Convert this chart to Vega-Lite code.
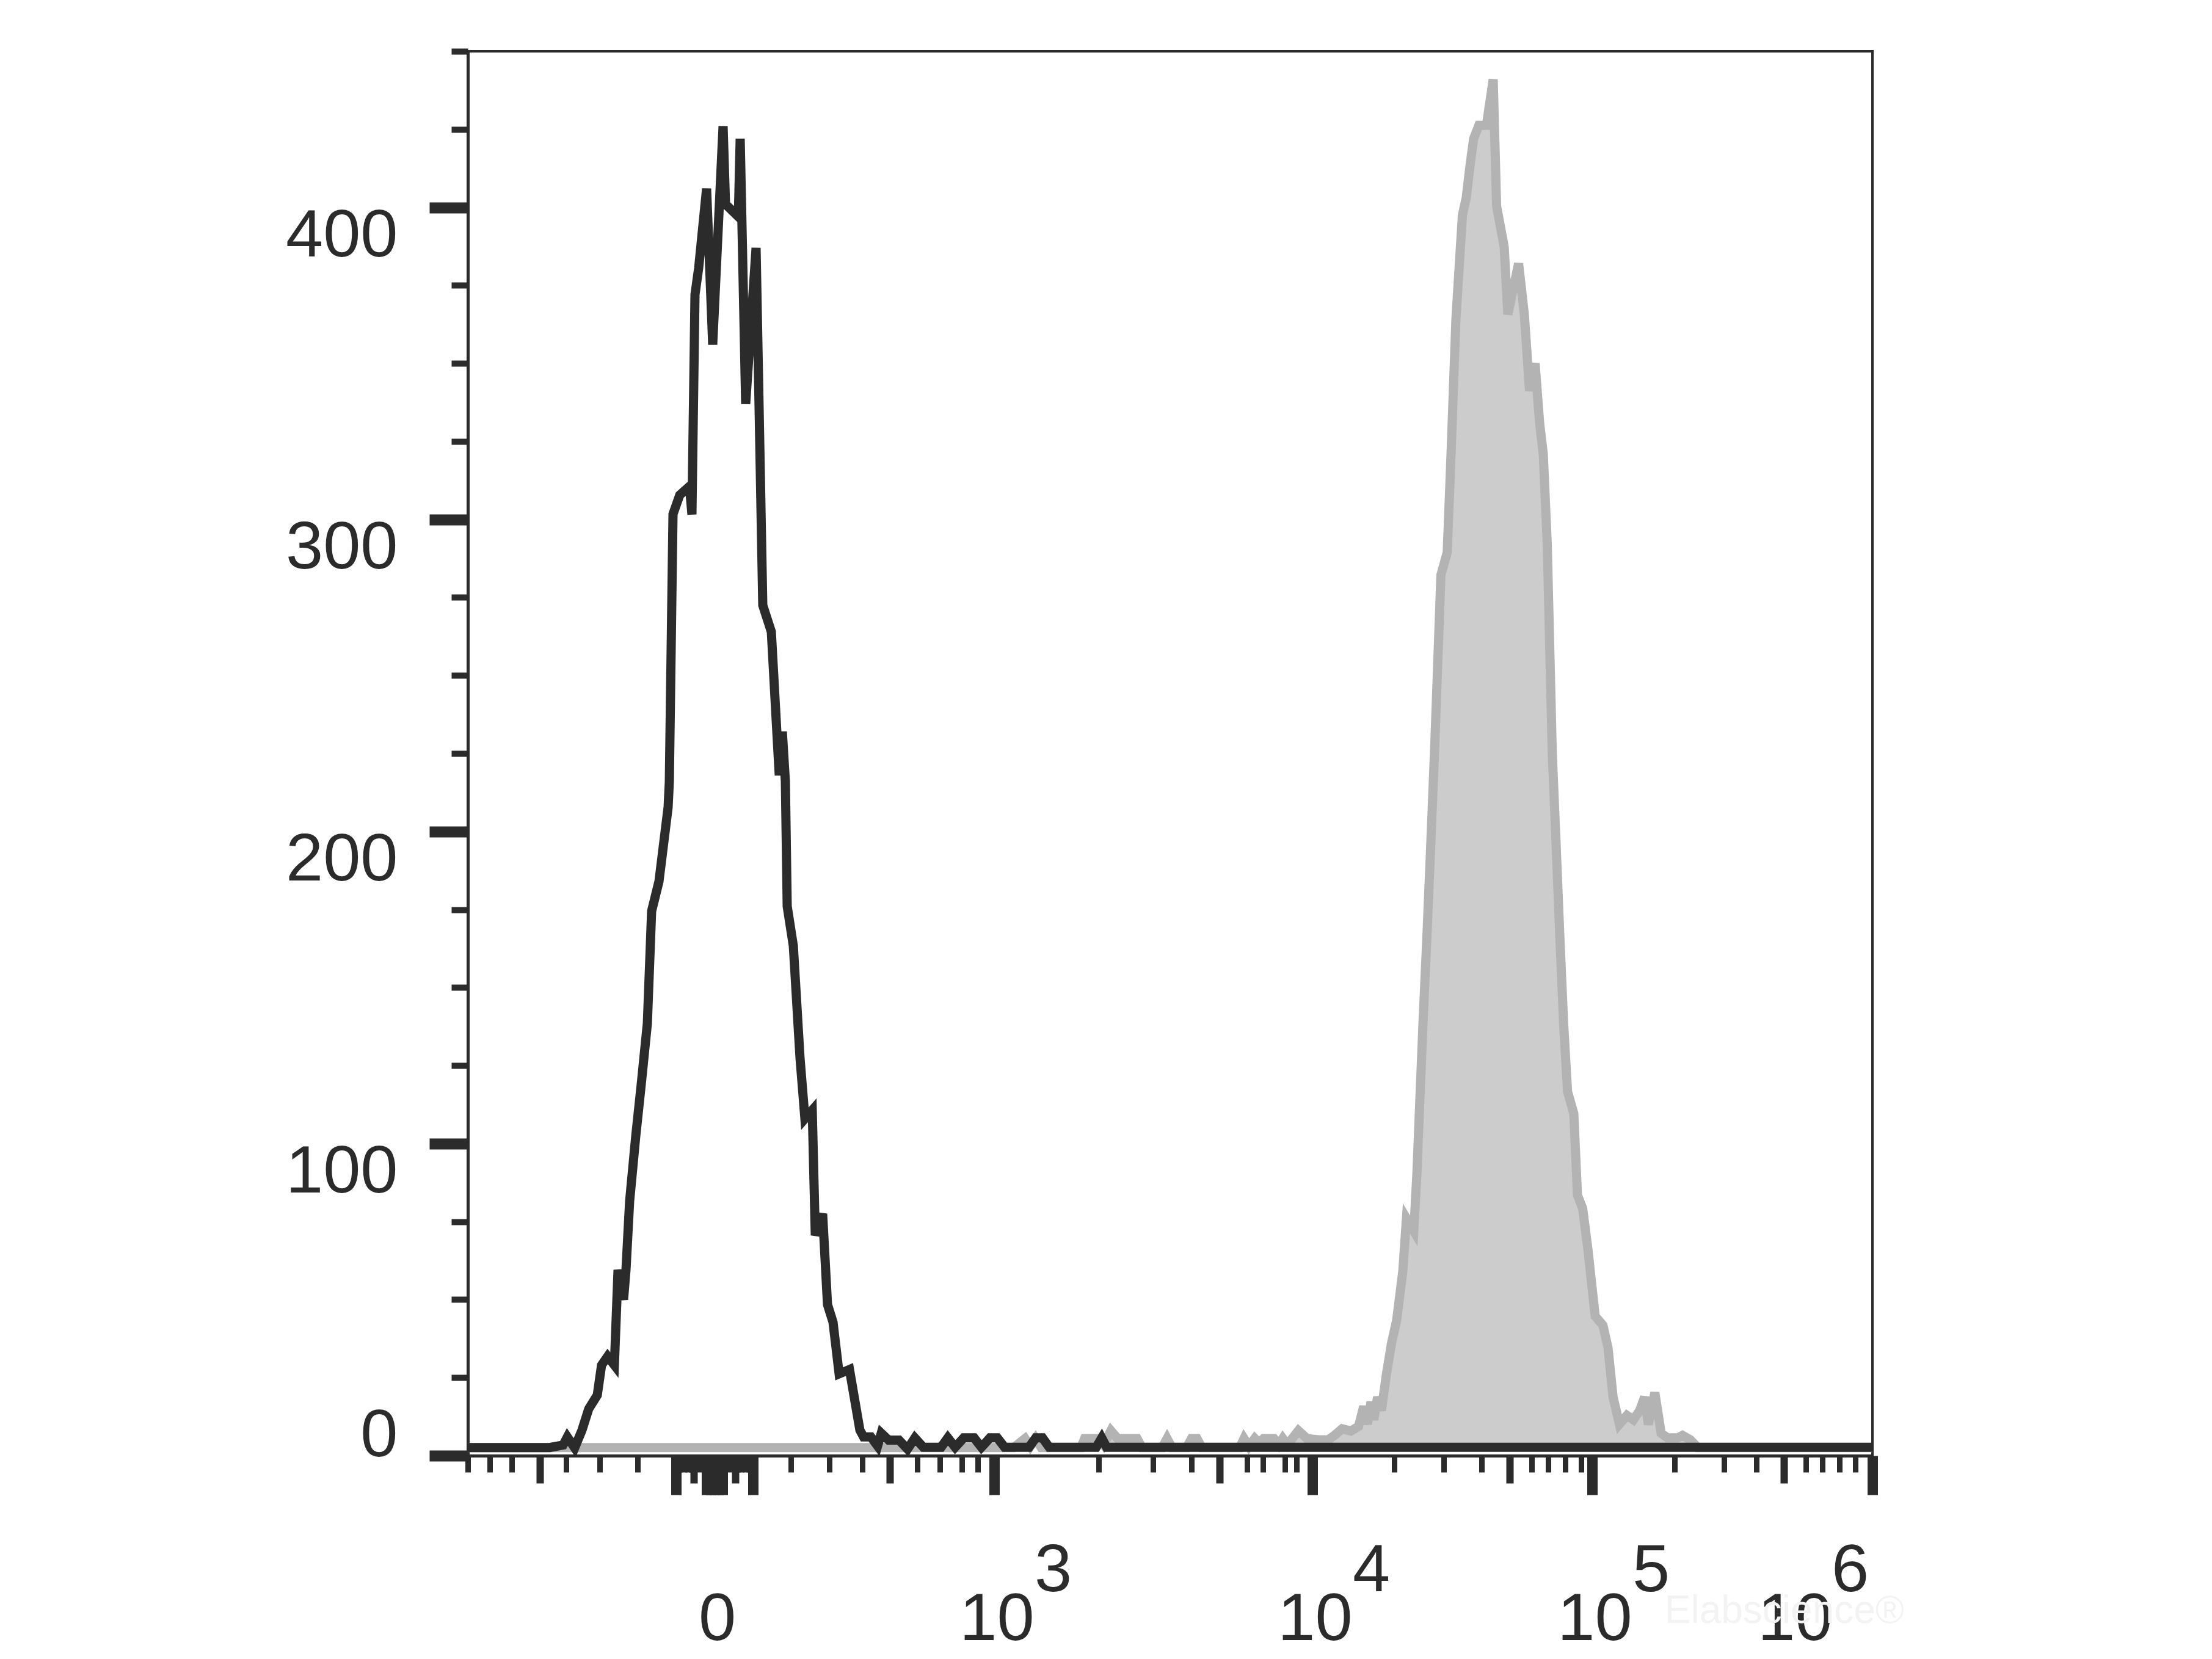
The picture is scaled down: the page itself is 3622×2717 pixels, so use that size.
{
  "$schema": "https://vega.github.io/schema/vega-lite/v6.json",
  "width": 2300,
  "height": 2300,
  "autosize": {"type": "none"},
  "padding": {"left": 766, "top": 84, "right": 556, "bottom": 333},
  "background": "white",
  "title": {"text": "Elabscience®", "orient": "bottom", "anchor": "end", "fontSize": 64, "font": "Liberation Sans", "fontWeight": "normal", "color": "#f3f3f3", "offset": -100, "dx": 22},
  "config": {
    "view": {"stroke": "#2b2b2b", "strokeWidth": 4},
    "axis": {"grid": false, "labelFont": "Liberation Sans", "labelColor": "#2b2b2b", "tickColor": "#2b2b2b", "domainColor": "#2b2b2b", "labelFlush": false, "labelOverlap": false, "labelBound": false, "labelLimit": 0, "title": null}
  },
  "datasets": {
    "gray": [
      {"x": 0, "count": 2.6}, {"x": 894, "count": 2.6}, {"x": 912.5, "count": 5.5}, {"x": 921, "count": 3}, {"x": 929.7, "count": 5.5}, {"x": 939, "count": 2.6},
      {"x": 1004, "count": 2.6}, {"x": 1010, "count": 5.5}, {"x": 1033, "count": 5.5}, {"x": 1041, "count": 3.5}, {"x": 1053, "count": 8}, {"x": 1064, "count": 5.5},
      {"x": 1096, "count": 5.5}, {"x": 1104, "count": 2.6}, {"x": 1137, "count": 2.6}, {"x": 1145, "count": 5.5}, {"x": 1153, "count": 2.6}, {"x": 1177, "count": 2.6},
      {"x": 1185, "count": 5.5}, {"x": 1194, "count": 5.5}, {"x": 1202, "count": 2.6}, {"x": 1264, "count": 2.6}, {"x": 1271, "count": 5.5}, {"x": 1279, "count": 3},
      {"x": 1288.5, "count": 5.5}, {"x": 1296, "count": 4}, {"x": 1303, "count": 5.5}, {"x": 1320, "count": 5.5}, {"x": 1328, "count": 3.5}, {"x": 1334.5, "count": 5.5},
      {"x": 1342, "count": 3.5}, {"x": 1360, "count": 8}, {"x": 1374, "count": 5.5}, {"x": 1392, "count": 5.1}, {"x": 1409, "count": 5.1}, {"x": 1419, "count": 6.5},
      {"x": 1431.7, "count": 8.6}, {"x": 1446, "count": 7.9}, {"x": 1458.6, "count": 9.4}, {"x": 1467, "count": 15.8}, {"x": 1473, "count": 10.1}, {"x": 1479, "count": 17.2},
      {"x": 1483.5, "count": 11.5}, {"x": 1489.7, "count": 18.8}, {"x": 1496, "count": 14.5}, {"x": 1504, "count": 25.9}, {"x": 1512.5, "count": 36}, {"x": 1520.8, "count": 43.2},
      {"x": 1531, "count": 59.1}, {"x": 1537, "count": 76}, {"x": 1549, "count": 72}, {"x": 1554, "count": 90}, {"x": 1558, "count": 109.6}, {"x": 1564, "count": 138.3},
      {"x": 1570.6, "count": 167}, {"x": 1576.8, "count": 196}, {"x": 1583, "count": 225.9}, {"x": 1593.4, "count": 282.2}, {"x": 1603.7, "count": 289.4}, {"x": 1610, "count": 321},
      {"x": 1618, "count": 364.3}, {"x": 1628.6, "count": 397.5}, {"x": 1634.8, "count": 403}, {"x": 1641, "count": 413.3}, {"x": 1647, "count": 422}, {"x": 1655.6, "count": 426.3},
      {"x": 1668, "count": 426.3}, {"x": 1679, "count": 441}, {"x": 1684.6, "count": 400.4}, {"x": 1697, "count": 387.3}, {"x": 1703, "count": 365.7}, {"x": 1720.6, "count": 382},
      {"x": 1730, "count": 365.7}, {"x": 1738.5, "count": 341.2}, {"x": 1747.6, "count": 350}, {"x": 1755, "count": 331}, {"x": 1761, "count": 321}, {"x": 1767.5, "count": 292.3},
      {"x": 1775.8, "count": 224.8}, {"x": 1782, "count": 196}, {"x": 1788, "count": 167}, {"x": 1794.4, "count": 138.3}, {"x": 1800.7, "count": 116.7}, {"x": 1811, "count": 109.6},
      {"x": 1817, "count": 83.5}, {"x": 1825.5, "count": 79.2}, {"x": 1834, "count": 66.3}, {"x": 1846, "count": 44.7}, {"x": 1858.7, "count": 41.8}, {"x": 1867, "count": 34.6},
      {"x": 1875.3, "count": 18.8}, {"x": 1885.7, "count": 10.1}, {"x": 1898, "count": 12.9}, {"x": 1908.5, "count": 11.5}, {"x": 1919, "count": 14.5}, {"x": 1927, "count": 18.8},
      {"x": 1933, "count": 10}, {"x": 1943.7, "count": 20.2}, {"x": 1954, "count": 7.2}, {"x": 1964.4, "count": 5.7}, {"x": 1981, "count": 5.7}, {"x": 1989, "count": 6.5},
      {"x": 2001.7, "count": 5.1}, {"x": 2014, "count": 2.6}, {"x": 2300, "count": 2.6}
    ],
    "black": [
      {"x": 0, "count": 2.6}, {"x": 134, "count": 2.6}, {"x": 156, "count": 3.4}, {"x": 163, "count": 6}, {"x": 175, "count": 2.5}, {"x": 187, "count": 8.2},
      {"x": 198, "count": 15}, {"x": 212, "count": 19.4}, {"x": 219, "count": 29}, {"x": 229, "count": 31.8}, {"x": 240, "count": 29}, {"x": 246, "count": 59.5},
      {"x": 255, "count": 50}, {"x": 259, "count": 59.5}, {"x": 265, "count": 81.6}, {"x": 275, "count": 102.4}, {"x": 284, "count": 119}, {"x": 294, "count": 138.5},
      {"x": 301, "count": 174.5}, {"x": 313, "count": 184}, {"x": 328, "count": 207.8}, {"x": 330, "count": 216}, {"x": 336, "count": 301.7}, {"x": 347, "count": 307.8},
      {"x": 363, "count": 310.6}, {"x": 367, "count": 301.6}, {"x": 372, "count": 372}, {"x": 378, "count": 380.5}, {"x": 391, "count": 406}, {"x": 401, "count": 356},
      {"x": 418, "count": 426}, {"x": 422, "count": 401}, {"x": 443, "count": 397}, {"x": 446, "count": 422}, {"x": 455, "count": 337}, {"x": 472, "count": 387},
      {"x": 476, "count": 346}, {"x": 483, "count": 272.5}, {"x": 497, "count": 264}, {"x": 506, "count": 232}, {"x": 510, "count": 218}, {"x": 515, "count": 232},
      {"x": 520, "count": 216}, {"x": 523, "count": 176}, {"x": 533, "count": 163.4}, {"x": 544, "count": 127.4}, {"x": 552, "count": 108}, {"x": 564, "count": 110.7},
      {"x": 569, "count": 70.6}, {"x": 581, "count": 77.5}, {"x": 589, "count": 48.4}, {"x": 598, "count": 42.8}, {"x": 608, "count": 26.2}, {"x": 625, "count": 27.6},
      {"x": 642, "count": 8.2}, {"x": 648, "count": 6}, {"x": 660, "count": 6}, {"x": 671, "count": 3.1}, {"x": 677, "count": 7.2}, {"x": 689, "count": 5},
      {"x": 706, "count": 5}, {"x": 720, "count": 2.1}, {"x": 732, "count": 5.7}, {"x": 746, "count": 2.7}, {"x": 775, "count": 2.7}, {"x": 786, "count": 5.7},
      {"x": 798, "count": 2.7}, {"x": 812, "count": 5.7}, {"x": 829, "count": 5.7}, {"x": 841, "count": 2.7}, {"x": 855, "count": 5.7}, {"x": 867, "count": 5.7},
      {"x": 879, "count": 2.7}, {"x": 919, "count": 2.7}, {"x": 930, "count": 5.7}, {"x": 941, "count": 5.7}, {"x": 952, "count": 2.7}, {"x": 1029, "count": 2.7},
      {"x": 1038, "count": 5.7}, {"x": 1046, "count": 2.7}, {"x": 2300, "count": 2.7}
    ]
  },
  "resolve": {"axis": {"x": "independent", "y": "independent"}},
  "layer": [
    {
      "data": {"name": "gray"},
      "mark": {"type": "area", "color": "#cccccc", "opacity": 1},
      "encoding": {
        "x": {"field": "x", "type": "quantitative", "scale": {"domain": [0, 2300], "nice": false, "zero": false},
          "axis": {
            "orient": "bottom",
            "values": [0, 36, 72, 118, 161, 216, 278, 341, 347, 354, 360, 366, 370, 379, 391, 398, 404, 410, 417, 429, 438, 442, 448, 454, 461, 467, 529, 592, 646, 691, 736, 773, 809, 835, 862, 1033, 1122, 1185, 1231, 1276, 1302, 1338, 1357, 1383, 1517, 1598, 1660, 1706, 1742, 1769, 1797, 1823, 1841, 1976, 2057, 2110, 2155, 2191, 2218, 2246, 2272, 2300],
            "labels": false,
            "domain": true,
            "domainWidth": 5,
            "ticks": true,
            "tickSize": {"condition": [{"test": "indexof([341, 391, 398, 404, 410, 417, 467, 862, 1383, 1841, 2300], datum.value) >= 0", "value": 64}, {"test": "indexof([118, 370, 438, 691, 1231, 1706, 2155], datum.value) >= 0", "value": 45}], "value": 27},
            "tickWidth": {"condition": [{"test": "indexof([341, 391, 398, 404, 410, 417, 467, 862, 1383, 1841, 2300], datum.value) >= 0", "value": 17}, {"test": "indexof([118, 370, 438, 691, 1231, 1706, 2155], datum.value) >= 0", "value": 12}], "value": 9}
          }
        },
        "y": {"field": "count", "type": "quantitative", "scale": {"domain": [0, 450], "nice": false, "zero": false},
          "axis": {
            "orient": "left",
            "values": [0, 25, 50, 75, 100, 125, 150, 175, 200, 225, 250, 275, 300, 325, 350, 375, 400, 425, 450],
            "labelExpr": "datum.value % 100 === 0 ? datum.label : ''",
            "labelFontSize": 110,
            "labelPadding": 52,
            "labelBaseline": "alphabetic",
            "labelOffset": {"condition": {"test": "datum.value === 0", "value": 0}, "value": 80},
            "domainWidth": 5,
            "tickSize": {"condition": {"test": "datum.value % 100 === 0", "value": 63}, "value": 27},
            "tickWidth": {"condition": {"test": "datum.value % 100 === 0", "value": 18}, "value": 10}
          }
        },
        "y2": {"datum": 2.6}
      }
    },
    {
      "data": {"name": "gray"},
      "mark": {"type": "line", "color": "#b3b3b3", "strokeWidth": 15},
      "encoding": {
        "x": {"field": "x", "type": "quantitative",
          "axis": {
            "orient": "bottom",
            "values": [404, 862, 1383, 1841, 2300],
            "labelExpr": "datum.value === 404 ? '0' : '10'",
            "ticks": false,
            "tickSize": 0,
            "domain": false,
            "labelFontSize": 110,
            "labelBaseline": "alphabetic",
            "labelPadding": 301,
            "labelOffset": {"condition": {"test": "datum.value === 2300", "value": -127}, "value": 4}
          }
        },
        "y": {"field": "count", "type": "quantitative", "axis": null}
      }
    },
    {
      "data": {"name": "black"},
      "mark": {"type": "line", "color": "#2b2b2b", "strokeWidth": 15},
      "encoding": {
        "x": {"field": "x", "type": "quantitative",
          "axis": {
            "orient": "bottom",
            "values": [862, 1383, 1841, 2300],
            "labelExpr": "datum.value === 862 ? '3' : datum.value === 1383 ? '4' : datum.value === 1841 ? '5' : '6'",
            "ticks": false,
            "tickSize": 0,
            "domain": false,
            "labelFontSize": 110,
            "labelBaseline": "alphabetic",
            "labelPadding": 221,
            "labelOffset": {"condition": {"test": "datum.value === 2300", "value": -37}, "value": 96}
          }
        },
        "y": {"field": "count", "type": "quantitative", "axis": null}
      }
    }
  ]
}
